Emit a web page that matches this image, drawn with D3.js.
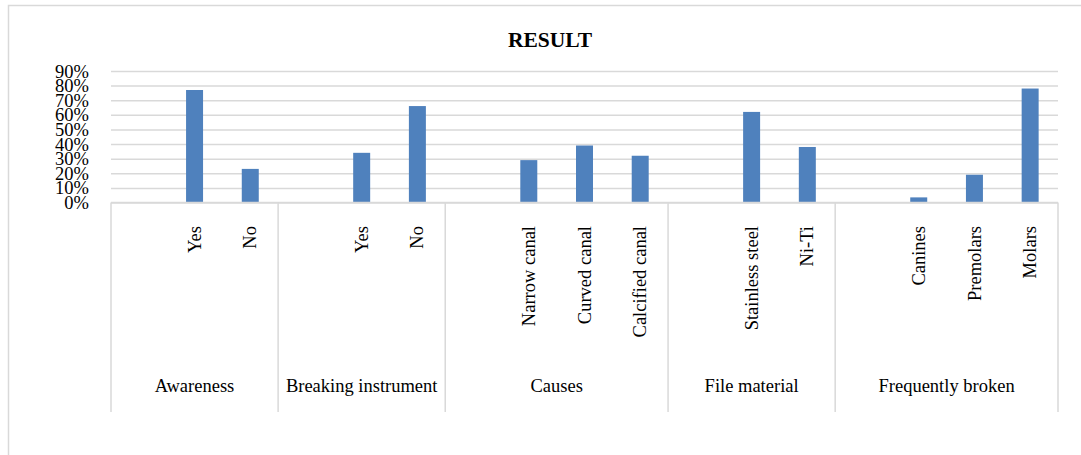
<!DOCTYPE html>
<html lang="en">
<head>
    <meta charset="UTF-8">
    <title>RESULT</title>
    <script src="https://d3js.org/d3.v7.min.js"></script>
    <style>
        body { margin: 0; background: #fff; }
        svg { display: block; }
        text { font-family: "Liberation Serif", "Times New Roman", serif; fill: #000; }
    </style>
</head>
<body>
    <div id="chart-container"></div>

    <script>
        // groups on the outer axis level, with a blank first slot in each (as in the sheet)
        const groupNames = ["Awareness", "Breaking instrument", "Causes", "File material", "Frequently broken"];
        const groupLabels = [
            ["", "Yes", "No"],
            ["", "Yes", "No"],
            ["", "Narrow canal", "Curved canal", "Calcified canal"],
            ["", "Stainless steel", "Ni-Ti"],
            ["", "Canines", "Premolars", "Molars"]
        ];
        const groupValues = [
            [null, 0.77, 0.23],
            [null, 0.34, 0.66],
            [null, 0.29, 0.39, 0.32],
            [null, 0.62, 0.38],
            [null, 0.035, 0.19, 0.78]
        ];
        const yTicks = [0, 0.1, 0.2, 0.3, 0.4, 0.5, 0.6, 0.7, 0.8, 0.9];

        const width = 1081, height = 455;
        const plot = { left: 111, right: 1058, top: 71, bottom: 202.5 };
        const axisBottom = 412;

        // flatten into slots
        const slots = [];
        groupNames.forEach((g, gi) => {
            groupLabels[gi].forEach((label, i) => {
                slots.push({ key: gi + "|" + i, group: gi, label: label, value: groupValues[gi][i] });
            });
        });

        const svg = d3.select("#chart-container")
            .append("svg")
            .attr("width", width)
            .attr("height", height);

        // chart area border
        svg.append("rect")
            .attr("x", 8.5).attr("y", 5.5)
            .attr("width", 1090).attr("height", 500)
            .attr("fill", "#fff")
            .attr("stroke", "#d9d9d9")
            .attr("stroke-width", 1.5);

        svg.append("text")
            .attr("x", 550).attr("y", 46.5)
            .attr("text-anchor", "middle")
            .style("font-size", "21.5px")
            .style("font-weight", "bold")
            .text("RESULT");

        const x = d3.scaleBand()
            .domain(slots.map(d => d.key))
            .range([plot.left, plot.right])
            .paddingInner(0).paddingOuter(0);

        const y = d3.scaleLinear()
            .domain([0, 0.9])
            .range([plot.bottom, plot.top]);

        // gridlines
        const grid = svg.append("g")
            .attr("transform", `translate(${plot.left},0)`)
            .call(d3.axisLeft(y).tickValues(yTicks).tickSize(-(plot.right - plot.left)).tickFormat(""));
        grid.select(".domain").remove();
        grid.selectAll("line").attr("stroke", "#d9d9d9").attr("stroke-width", 1.5);

        // y labels
        const yAxis = svg.append("g")
            .attr("transform", `translate(${plot.left},0)`)
            .call(d3.axisLeft(y).tickValues(yTicks).tickSize(0).tickPadding(22).tickFormat(d3.format(".0%")));
        yAxis.select(".domain").remove();
        yAxis.selectAll("text")
            .style("font-family", '"Liberation Serif", "Times New Roman", serif')
            .style("font-size", "18.5px")
            .attr("dy", "0.33em");

        // bars
        const barW = x.bandwidth() * 0.305;
        svg.append("g").selectAll("rect")
            .data(slots.filter(d => d.value != null))
            .enter()
            .append("rect")
            .attr("x", d => x(d.key) + (x.bandwidth() - barW) / 2)
            .attr("y", d => y(d.value))
            .attr("width", barW)
            .attr("height", d => y(0) - y(d.value))
            .attr("fill", "#4f81bd");

        // category axis line
        svg.append("line")
            .attr("x1", plot.left).attr("x2", plot.right)
            .attr("y1", y(0)).attr("y2", y(0))
            .attr("stroke", "#d9d9d9").attr("stroke-width", 1.5);

        // group separators
        const bounds = [plot.left];
        groupNames.forEach((g, gi) => {
            const last = slots.filter(s => s.group === gi).pop();
            bounds.push(x(last.key) + x.bandwidth());
        });
        svg.append("g").selectAll("line")
            .data(bounds)
            .enter()
            .append("line")
            .attr("x1", d => d).attr("x2", d => d)
            .attr("y1", y(0)).attr("y2", axisBottom)
            .attr("stroke", "#d9d9d9").attr("stroke-width", 1.5);

        // inner labels (rotated)
        svg.append("g").selectAll("text")
            .data(slots.filter(d => d.label !== ""))
            .enter()
            .append("text")
            .attr("transform", d => `translate(${x(d.key) + x.bandwidth() / 2},226) rotate(-90)`)
            .attr("text-anchor", "end")
            .attr("dy", "0.33em")
            .style("font-size", "18.5px")
            .text(d => d.label);

        // outer group labels
        svg.append("g").selectAll("text")
            .data(groupNames)
            .enter()
            .append("text")
            .attr("x", (d, i) => (bounds[i] + bounds[i + 1]) / 2)
            .attr("y", 392)
            .attr("text-anchor", "middle")
            .style("font-size", "18.5px")
            .text(d => d);
    </script>
</body>
</html>
